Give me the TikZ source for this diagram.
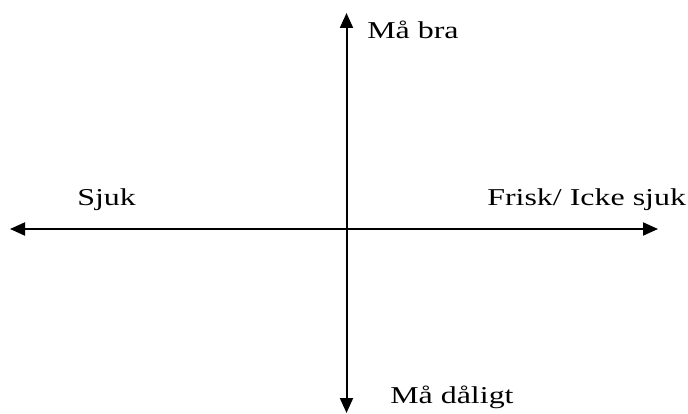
\documentclass[tikz,border=0pt]{standalone}
\usepackage{fontspec}
\setmainfont{Liberation Serif}
\usetikzlibrary{arrows.meta}

\begin{document}
\begin{tikzpicture}[x=1pt,y=-1pt,>={Triangle[length=15pt,width=13pt]},
    axis/.style={<->,line width=2pt},
    lbl/.style={anchor=base west,inner sep=0pt,xscale=1.32,
      font=\fontsize{24.2}{29}\selectfont}]
  \useasboundingbox (0,0) rectangle (688,414);
  % axis end points
  \coordinate (west) at (10,229);
  \coordinate (east) at (658,229);
  \coordinate (north) at (346.5,13);
  \coordinate (south) at (346.5,413);
  \draw[axis] (west) -- (east);
  \draw[axis] (north) -- (south);

  \node[lbl] (good) at (367,38.3) {Må bra};
  \node[lbl] (ill) at (77,206) {Sjuk};
  \node[lbl] (healthy) at (487,206) {Frisk/ Icke sjuk};
  \node[lbl] (bad) at (390,403) {Må dåligt};
\end{tikzpicture}
\end{document}
